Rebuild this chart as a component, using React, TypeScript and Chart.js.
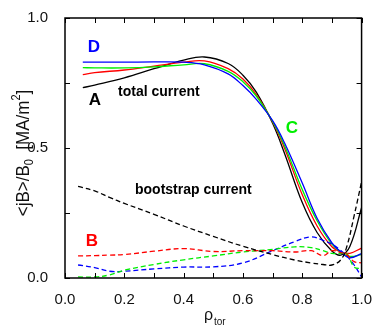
import React, { useEffect, useRef } from "react";
import { Chart, registerables } from "chart.js";

Chart.register(...registerables);

// radial coordinate (rho_tor) for total current curves
const rhoSolid = [0.06, 0.1, 0.2, 0.3, 0.4, 0.47, 0.55, 0.6, 0.645, 0.7, 0.74, 0.8, 0.85, 0.9, 0.93, 0.96, 1.0];
const totalA = [0.732, 0.742, 0.77, 0.805, 0.838, 0.85, 0.825, 0.78, 0.715, 0.595, 0.48, 0.29, 0.175, 0.104, 0.088, 0.12, 0.27];
const totalB = [0.782, 0.79, 0.8, 0.815, 0.83, 0.835, 0.805, 0.765, 0.705, 0.6, 0.5, 0.32, 0.2, 0.12, 0.1, 0.095, 0.115];
const totalC = [0.809, 0.808, 0.808, 0.812, 0.82, 0.824, 0.795, 0.755, 0.7, 0.602, 0.51, 0.34, 0.22, 0.13, 0.1, 0.083, 0.09];
const totalD = [0.83, 0.83, 0.83, 0.831, 0.83, 0.82, 0.785, 0.74, 0.687, 0.605, 0.52, 0.365, 0.23, 0.135, 0.1, 0.078, 0.094];

// radial coordinate for bootstrap current curves
const rhoDashed = [0.044, 0.1, 0.15, 0.2, 0.3, 0.4, 0.5, 0.6, 0.7, 0.775, 0.83, 0.87, 0.9, 0.93, 0.95, 0.975, 1.0];
const bootA = [0.352, 0.335, 0.31, 0.287, 0.245, 0.2, 0.16, 0.122, 0.09, 0.069, 0.058, 0.052, 0.05, 0.07, 0.12, 0.24, 0.37];
const bootB = [0.085, 0.086, 0.088, 0.09, 0.103, 0.113, 0.102, 0.105, 0.105, 0.1, 0.105, 0.086, 0.105, 0.098, 0.09, 0.063, 0.058];
const bootC = [0.004, 0.004, 0.012, 0.03, 0.052, 0.07, 0.085, 0.1, 0.11, 0.12, 0.117, 0.105, 0.095, 0.094, 0.094, 0.042, 0.036];
const bootD = [0.05, 0.04, 0.026, 0.026, 0.035, 0.042, 0.043, 0.058, 0.105, 0.14, 0.158, 0.145, 0.13, 0.106, 0.085, 0.05, 0.004];

const xTicks = [0, 0.2, 0.4, 0.6, 0.8, 1.0];
const yTicks = [0, 0.5, 1.0];

const FONT = "'Liberation Sans', Arial, sans-serif";

const toPts = (xs: number[], ys: number[]) => xs.map((x, i) => ({ x, y: ys[i] }));

export default function App() {
  const ref = useRef<HTMLCanvasElement | null>(null);

  useEffect(() => {
    if (!ref.current) return;
    const mk = (data: number[], xs: number[], color: string, dashed: boolean) => ({
      data: toPts(xs, data),
      borderColor: color,
      borderWidth: 1.3,
      borderDash: dashed ? [5, 3] : [],
      pointRadius: 0,
      tension: 0.4,
      fill: false,
    });

    const decor = {
      id: "decor",
      afterDatasetsDraw(chart: any) {
        const { ctx, chartArea: a, scales } = chart;
        const xs = scales.x, ys = scales.y;
        ctx.save();
        // frame
        ctx.strokeStyle = "#000";
        ctx.lineWidth = 1.5;
        ctx.strokeRect(a.left, a.top, a.right - a.left, a.bottom - a.top);
        // inward ticks
        ctx.lineWidth = 1;
        const tl = 5;
        xs.ticks.forEach((t: any) => {
          const p = Math.round(xs.getPixelForValue(t.value)) + 0.5;
          ctx.beginPath();
          ctx.moveTo(p, a.bottom);
          ctx.lineTo(p, a.bottom - tl);
          ctx.moveTo(p, a.top);
          ctx.lineTo(p, a.top + tl);
          ctx.stroke();
        });
        ys.ticks.forEach((t: any) => {
          const p = Math.round(ys.getPixelForValue(t.value)) + 0.5;
          ctx.beginPath();
          ctx.moveTo(a.left, p);
          ctx.lineTo(a.left + tl, p);
          ctx.moveTo(a.right, p);
          ctx.lineTo(a.right - tl, p);
          ctx.stroke();
        });

        // annotations
        ctx.textAlign = "center";
        ctx.textBaseline = "middle";
        const lab = (t: string, x: number, y: number, c: string, s: number) => {
          ctx.fillStyle = c;
          ctx.font = `bold ${s}px ${FONT}`;
          ctx.fillText(t, x, y);
        };
        lab("D", 94, 47, "#0000ff", 17);
        lab("A", 95, 100, "#000", 17);
        lab("C", 292, 128, "#00ee00", 17);
        lab("B", 92, 241, "#ff0000", 17);
        ctx.textAlign = "left";
        lab("total current", 118, 92, "#000", 14);
        lab("bootstrap current", 135, 190, "#000", 14);

        // x title
        ctx.fillStyle = "#111";
        ctx.textBaseline = "alphabetic";
        ctx.font = `16px ${FONT}`;
        ctx.fillText("ρ", 204, 320);
        ctx.font = `10px ${FONT}`;
        ctx.fillText("tor", 214, 325);

        // y title
        ctx.translate(22, 153);
        ctx.rotate(-Math.PI / 2);
        ctx.scale(1, 1.12);
        const parts = [
          { t: "<jB>/B", s: 17, dy: 0 },
          { t: "0", s: 11, dy: 4 },
          { t: "  [MA/m", s: 17, dy: 0 },
          { t: "2", s: 11, dy: -8 },
          { t: "]", s: 17, dy: 0 },
        ];
        let total = 0;
        parts.forEach((p) => {
          ctx.font = `${p.s}px ${FONT}`;
          total += ctx.measureText(p.t).width;
        });
        let cx = -total / 2;
        parts.forEach((p) => {
          ctx.font = `${p.s}px ${FONT}`;
          ctx.fillText(p.t, cx, 6 + p.dy);
          cx += ctx.measureText(p.t).width;
        });
        ctx.restore();
      },
    };

    const chart = new Chart(ref.current, {
      type: "line",
      data: {
        datasets: [
          mk(bootA, rhoDashed, "#000000", true),
          mk(bootB, rhoDashed, "#ff0000", true),
          mk(bootC, rhoDashed, "#00ee00", true),
          mk(bootD, rhoDashed, "#0000ff", true),
          mk(totalD, rhoSolid, "#0000ff", false),
          mk(totalC, rhoSolid, "#00ee00", false),
          mk(totalB, rhoSolid, "#ff0000", false),
          mk(totalA, rhoSolid, "#000000", false),
        ] as any,
      },
      options: {
        responsive: false,
        animation: false,
        events: [],
        layout: { padding: { top: 13, right: 7, left: 0, bottom: 0 } },
        plugins: { legend: { display: false }, tooltip: { enabled: false } },
        scales: {
          x: {
            type: "linear",
            min: 0,
            max: 1,
            grid: { display: false },
            border: { display: false },
            ticks: {
              stepSize: 0.1,
              autoSkip: false,
              maxRotation: 0,
              padding: 5,
              color: "#111",
              font: { family: FONT, size: 15 },
              callback: (v: any) => {
                const n = Number(v);
                return xTicks.some((t) => Math.abs(t - n) < 1e-6) ? n.toFixed(1) : "";
              },
            },
            afterFit: (s: any) => {
              s.height = 53;
            },
          },
          y: {
            type: "linear",
            min: 0,
            max: 1,
            grid: { display: false },
            border: { display: false },
            ticks: {
              stepSize: 0.25,
              autoSkip: false,
              padding: 9,
              color: "#111",
              font: { family: FONT, size: 15 },
              callback: (v: any) => {
                const n = Number(v);
                return yTicks.some((t) => Math.abs(t - n) < 1e-6) ? n.toFixed(1) : "";
              },
            },
            afterFit: (s: any) => {
              s.width = 65;
            },
          },
        },
      } as any,
      plugins: [decor],
    });
    return () => chart.destroy();
  }, []);

  return (
    <div style={{ position: "fixed", left: 0, top: 0, width: 377, height: 331, background: "#fff" }}>
      <canvas ref={ref} width={377} height={331} />
    </div>
  );
}
